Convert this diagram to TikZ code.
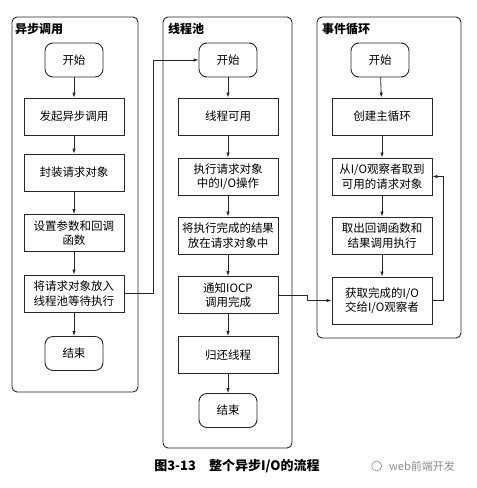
\documentclass[tikz,border=0pt]{standalone}
\usepackage{fontspec}
\setmainfont{Noto Sans CJK SC}
\usetikzlibrary{arrows.meta,positioning}
\colorlet{flowline}{black!85}
\colorlet{markgray}{black!45}
\newcommand{\boxfont}{\fontsize{11.5}{14.5}\selectfont}
\newcommand{\lanefont}{\fontsize{12}{14}\selectfont\bfseries}
\tikzset{
  lane/.style={draw=flowline,rounded corners=5pt,line width=0.9pt},
  lanetitle/.style={anchor=west,inner sep=0pt,font=\lanefont},
  stepbox/.style={draw=flowline,line width=0.9pt,minimum width=100pt,minimum height=37pt,
    inner sep=1pt,align=center,font=\boxfont},
  termbox/.style={draw=flowline,line width=0.9pt,rounded corners=8pt,minimum width=58pt,
    minimum height=34pt,inner sep=1pt,font=\boxfont},
  flow/.style={->,draw=flowline,line width=0.8pt}
}
\begin{document}
\begin{tikzpicture}[x=1pt,y=-1pt,>={Latex[length=5pt,width=3.5pt]}]
\useasboundingbox (0,0) rectangle (477,488);
% three lanes
\draw[lane] (12,17) rectangle (138,392);
\draw[lane] (163,17) rectangle (292,448);
\draw[lane] (317,17) rectangle (461,338);
\node[lanetitle] (t1) at (15,29){异步调用};
\node[lanetitle] (t2) at (168,29){线程池};
\node[lanetitle] (t3) at (322,29){事件循环};
% async call
\node[termbox] (s1) at (74,60){开始};
\node[stepbox] (a1) at (74,116.5){发起异步调用};
\node[stepbox] (a2) at (74,172.5){封装请求对象};
\node[stepbox] (a3) at (74,233){设置参数和回调\\函数};
\node[stepbox] (a4) at (74,293.5){将请求对象放入\\线程池等待执行};
\node[termbox] (e1) at (74,353.5){结束};
% thread pool
\node[termbox] (s2) at (228,60){开始};
\node[stepbox] (b1) at (228,116.5){线程可用};
\node[stepbox] (b2) at (228,176.5){执行请求对象\\中的I/O操作};
\node[stepbox] (b3) at (228,235.5){将执行完成的结果\\放在请求对象中};
\node[stepbox] (b4) at (228,295){通知IOCP\\调用完成};
\node[stepbox] (b5) at (228,355){归还线程};
\node[termbox] (e2) at (228,410.5){结束};
% event loop
\node[termbox] (s3) at (380,60){开始};
\node[stepbox] (c1) at (382,116.5){创建主循环};
\node[stepbox] (c2) at (382,176.5){从I/O观察者取到\\可用的请求对象};
\node[stepbox] (c3) at (382,235.5){取出回调函数和\\结果调用执行};
\node[stepbox,minimum height=47pt] (c4) at (382,300.5){获取完成的I/O\\交给I/O观察者};
% arrows
\draw[flow] (s1)--(a1); \draw[flow] (a1)--(a2); \draw[flow] (a2)--(a3);
\draw[flow] (a3)--(a4); \draw[flow] (a4)--(e1);
\draw[flow] (s2)--(b1); \draw[flow] (b1)--(b2); \draw[flow] (b2)--(b3);
\draw[flow] (b3)--(b4); \draw[flow] (b4)--(b5); \draw[flow] (b5)--(e2);
\draw[flow] (s3)--(c1); \draw[flow] (c1)--(c2); \draw[flow] (c2)--(c3);
\draw[flow] (c3)--(c4);
\draw[flow] (a4.east)--++(29,0) |- (s2.west);
\draw[flow] (b4.east)--++(29,0) |- (c4.west);
\draw[flow] (c4.east)--++(11,0) |- (c2.east);
% caption
\node[font=\fontsize{13}{15}\selectfont\bfseries] (cap) at (237,466){图3-13\quad 整个异步I/O的流程};
\node[font=\fontsize{11}{13}\selectfont,text=markgray] (mark) at (422,466){web前端开发};
\draw[markgray,line width=0.6pt] ([xshift=-9pt]mark.west) circle (5pt);
\end{tikzpicture}
\end{document}
